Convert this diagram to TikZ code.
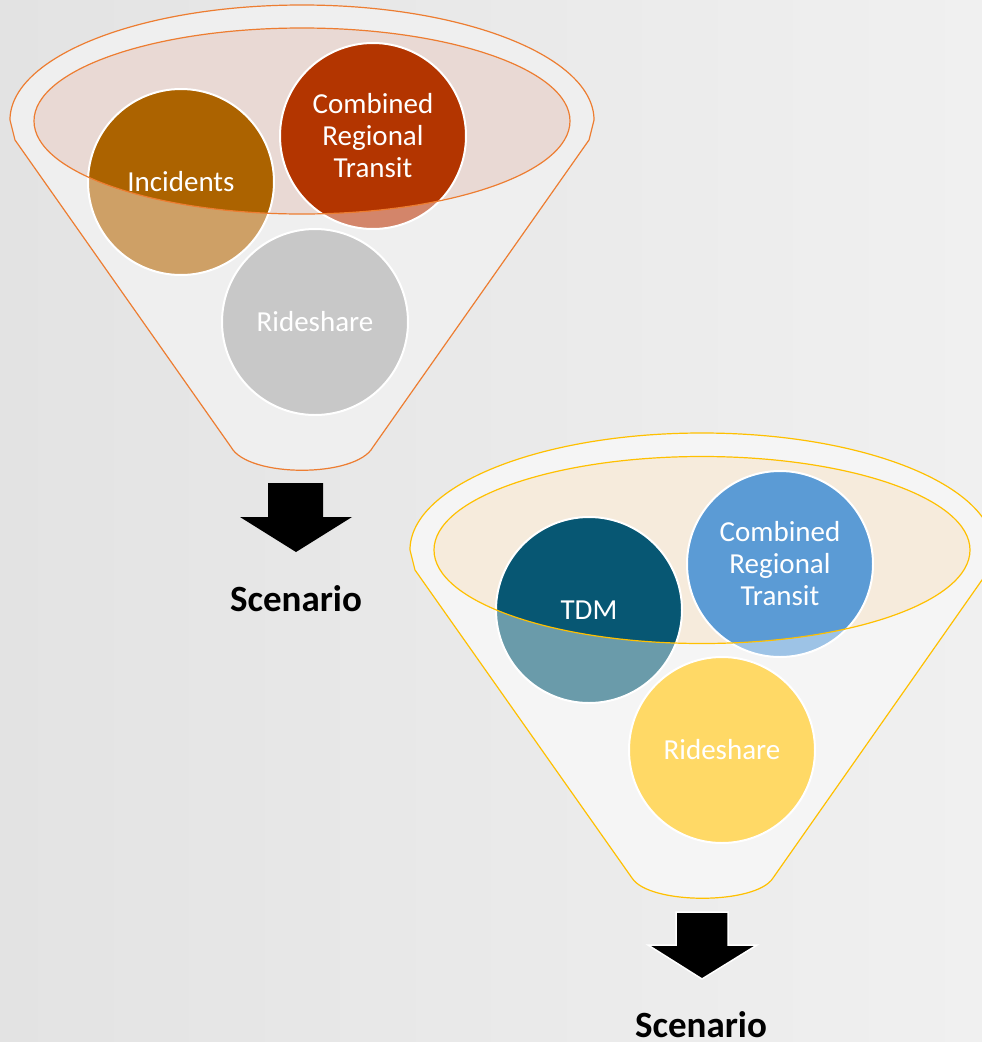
\documentclass[tikz,border=0pt]{standalone}
\usepackage{fontspec}
\setmainfont{Carlito}
\definecolor{bgL}{HTML}{E3E3E3}
\definecolor{bgR}{HTML}{F0F0F0}
\definecolor{funA}{HTML}{EFEFEF}
\definecolor{funB}{HTML}{F5F5F5}
\definecolor{lineA}{HTML}{ED7D31}
\definecolor{lineB}{HTML}{FFC000}
\definecolor{tintA}{HTML}{E9D9D4}
\definecolor{tintB}{HTML}{F6EBDC}
\definecolor{incD}{HTML}{AC6300}
\definecolor{incL}{HTML}{CEA066}
\definecolor{crtAD}{HTML}{B33500}
\definecolor{crtAL}{HTML}{D3856A}
\definecolor{rsA}{HTML}{C8C8C8}
\definecolor{tdmD}{HTML}{075773}
\definecolor{tdmL}{HTML}{6A9BAA}
\definecolor{crtBD}{HTML}{5B9BD5}
\definecolor{crtBL}{HTML}{9DC3E6}
\definecolor{rsB}{HTML}{FFD966}
\begin{document}
\begin{tikzpicture}[x=1pt,y=1pt,yscale=-1,
  bubble/.style={circle, minimum size=186pt, inner sep=0pt, draw=white, line width=2pt,
    text=white, align=center, font=\fontsize{29}{32}\selectfont},
  scen/.style={anchor=base, inner sep=1pt, text=black, font=\bfseries\fontsize{37}{44}\selectfont},
  blockarrow/.style={fill=black}]
\useasboundingbox (0,0) rectangle (982,1042);
\shade[left color=bgL, right color=bgR] (0,0) rectangle (982,1042);

% ---------- Funnel 1 ----------
\filldraw[fill=funA, draw=lineA, line width=1.2pt, line join=round]
  (10,120) -- (15,140) -- (231,447) .. controls (248,478) and (356,478) .. (373,447)
  -- (589,140) -- (594,120) arc[start angle=0, end angle=-180, x radius=292, y radius=115] -- cycle;
\fill[tintA] (302,121) ellipse[x radius=268, y radius=93];
\fill[incL] (181,182) circle[radius=93];
\fill[crtAL] (373,136) circle[radius=93];
\begin{scope}
  \clip (302,121) ellipse[x radius=268, y radius=93];
  \fill[incD] (181,182) circle[radius=93];
  \fill[crtAD] (373,136) circle[radius=93];
\end{scope}
\node[bubble] (inc) at (181,182) {Incidents};
\node[bubble] (crtA) at (373,136) {Combined\\Regional\\Transit};
\node[bubble, fill=rsA] (rsA) at (315,322) {Rideshare};
\draw[lineA, line width=1.2pt] (302,121) ellipse[x radius=268, y radius=93];

\fill[blockarrow] (268,483) -- (323,483) -- (323,517) -- (352,517) -- (296,552)
  -- (240,517) -- (268,517) -- cycle;
\node[scen] (scA) at (296,611) {Scenario};

% ---------- Funnel 2 ----------
\filldraw[fill=funB, draw=lineB, line width=1.2pt, line join=round]
  (410,550) -- (415,570) -- (632,878) .. controls (649,905) and (756,905) .. (773,878)
  -- (989,570) -- (994,550) arc[start angle=0, end angle=-180, x radius=292, y radius=117] -- cycle;
\fill[tintB] (702,550) ellipse[x radius=268, y radius=93.5];
\fill[tdmL] (589,610) circle[radius=93];
\fill[crtBL] (780,564) circle[radius=93];
\begin{scope}
  \clip (702,550) ellipse[x radius=268, y radius=93.5];
  \fill[tdmD] (589,610) circle[radius=93];
  \fill[crtBD] (780,564) circle[radius=93];
\end{scope}
\node[bubble] (tdm) at (589,610) {TDM};
\node[bubble] (crtB) at (780,564) {Combined\\Regional\\Transit};
\node[bubble, fill=rsB] (rsB) at (722,750) {Rideshare};
\draw[lineB, line width=1.2pt] (702,550) ellipse[x radius=268, y radius=93.5];

\filldraw[blockarrow, draw=white, line width=1.5pt] (676,912) -- (728,912) -- (728,945)
  -- (757,945) -- (702,979) -- (648,945) -- (676,945) -- cycle;
\node[scen] (scB) at (701,1037) {Scenario};
\end{tikzpicture}
\end{document}
